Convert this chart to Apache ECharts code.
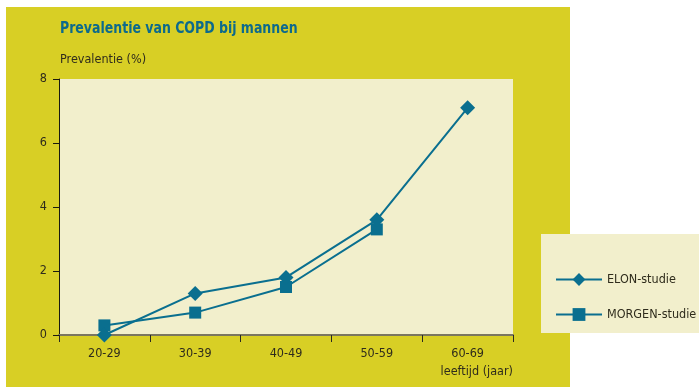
<!DOCTYPE html>
<html><head><meta charset="utf-8">
<script src="https://cdn.jsdelivr.net/npm/echarts@6/dist/echarts.min.js"></script>
<style>html,body{margin:0;padding:0;background:#fff}#c{width:699px;height:387px}</style>
</head><body><div id="c"></div>
<script>
const categories = ['20-29','30-39','40-49','50-59','60-69'];
const elon = [0, 1.3, 1.8, 3.6, 7.1];
const morgen = [0.3, 0.7, 1.5, 3.3, null];
const yTicks = [0, 2, 4, 6, 8];

const FONT = '"DejaVu Sans Condensed", "Liberation Sans Narrow", sans-serif';
const TEAL = '#0a6f8f';
const TXT = '#2f2c1c';
const chart = echarts.init(document.getElementById('c'), null, {renderer:'canvas'});
chart.setOption({
  backgroundColor: '#ffffff',
  animation: false,
  textStyle: {fontFamily: FONT},
  graphic: [
    {type:'rect', z:-10, shape:{x:6,y:7,width:564,height:380}, style:{fill:'#d8cf25'}},
    {type:'rect', z:-10, shape:{x:541,y:234,width:158,height:99}, style:{fill:'#f2efcc'}},
    {type:'text', x:60, y:21, scaleX:0.87, style:{text:'Prevalentie van COPD bij mannen', fill:'#0d6a8c', font:'bold 16px ' + FONT}},
    {type:'text', left:60, top:53, style:{text:'Prevalentie (%)', fill:TXT, font:'12.5px ' + FONT}},
    {type:'text', right:186, top:365, style:{text:'leeftijd (jaar)', fill:TXT, font:'12.5px ' + FONT}}
  ],
  grid: {left:59, top:79, width:454, height:256, show:true, backgroundColor:'#f2efcc', borderWidth:0, containLabel:false},
  legend: {
    orient:'vertical', left:555, top:273, padding:0, itemGap:22, itemWidth:46, itemHeight:16,
    textStyle:{fontFamily:FONT, fontSize:12.5, color:TXT},
    data:['ELON-studie','MORGEN-studie']
  },
  xAxis: {
    type:'category', data:categories, boundaryGap:true,
    axisLine:{lineStyle:{color:'#7a7660', width:2}},
    axisTick:{show:true, length:7, lineStyle:{color:'#2a2a20', width:1}},
    axisLabel:{color:TXT, fontSize:12.5, margin:12, fontFamily:FONT},
    splitLine:{show:false}
  },
  yAxis: {
    type:'value', min:0, max:8, interval:2,
    axisLine:{show:true, lineStyle:{color:'#1a1a10', width:1}},
    axisTick:{show:true, length:6, lineStyle:{color:'#1a1a10'}},
    axisLabel:{color:TXT, fontSize:12.5, margin:12, fontFamily:FONT,
      formatter: v => yTicks.includes(v) ? String(v) : ''},
    splitLine:{show:false}
  },
  series: [
    {name:'ELON-studie', type:'line', data:elon, symbol:'diamond', symbolSize:15,
     lineStyle:{color:TEAL, width:2}, itemStyle:{color:TEAL}, z:3},
    {name:'MORGEN-studie', type:'line', data:morgen, symbol:'rect', symbolSize:12,
     lineStyle:{color:TEAL, width:2}, itemStyle:{color:TEAL}, z:2}
  ]
});
</script></body></html>
